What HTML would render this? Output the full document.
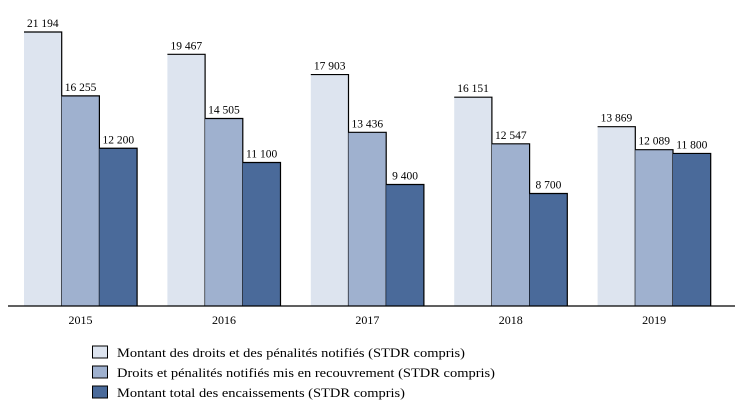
<!DOCTYPE html>
<html><head><meta charset="utf-8"><style>
body{margin:0;background:#fff}
svg{display:block}
svg text{font-family:"Liberation Serif","DejaVu Serif",serif}
</style></head><body>
<svg id="c" width="736" height="412" font-family="Liberation Serif, serif"></svg>
<script>
const categories=["2015","2016","2017","2018","2019"];
const seriesNames=["Montant des droits et des pénalités notifiés (STDR compris)","Droits et pénalités notifiés mis en recouvrement (STDR compris)","Montant total des encaissements (STDR compris)"];
const notifies=[21194,19467,17903,16151,13869];
const recouvrement=[16255,14505,13436,12547,12089];
const encaissements=[12200,11100,9400,8700,11800];
const labels1=["21 194","19 467","17 903","16 151","13 869"];
const labels2=["16 255","14 505","13 436","12 547","12 089"];
const labels3=["12 200","11 100","9 400","8 700","11 800"];
const series=[notifies,recouvrement,encaissements];
const labels=[labels1,labels2,labels3];
const colors=["#dde4ef","#9fb1cf","#4a6a9a"];
const legendWidths=[348,378,288];
const NS="http://www.w3.org/2000/svg";
const svg=document.getElementById('c');
const base=306,top0=32,maxV=21194;
const y=v=>base-(v/maxV)*(base-top0);
const bw=37.7,gx=i=>24+i*143.4;
const bx=(i,s)=>gx(i)+s*bw;
function mk(t,a){const e=document.createElementNS(NS,t);for(const k in a)e.setAttribute(k,a[k]);svg.appendChild(e);return e;}
categories.forEach((c,i)=>{
 series.forEach((arr,s)=>{
  const x=bx(i,s),yy=y(arr[i]);
  const r=mk('rect',{x:x,y:yy,width:bw,height:base-yy,fill:colors[s]});
  
  
  const l=mk('path',{d:`M${x},${yy}H${x+bw}V${base}`,stroke:'#000','stroke-width':1.2,fill:'none'});
  
  
  const t=mk('text',{x:x+bw/2,y:yy-5,'text-anchor':'middle','font-size':11.5,'font-family':'Liberation Serif, serif'});
  t.textContent=labels[s][i];
  
  
 });
 const t=mk('text',{x:gx(i)+bw*1.5,y:324,'text-anchor':'middle','font-size':12,'font-family':'Liberation Serif, serif'});
 t.textContent=c;
 
 
});
const ax=mk('line',{x1:8,x2:735,y1:base,y2:base,stroke:'#000','stroke-width':1.2});


seriesNames.forEach((n,s)=>{
 const yy=346+s*20;
 const r=mk('rect',{x:92.5,y:yy,width:15,height:12,fill:colors[s],stroke:'#000','stroke-width':1});
 
 
 const t=mk('text',{x:117,y:yy+11,'font-size':12.5,'font-family':'Liberation Serif, serif',textLength:legendWidths[s],lengthAdjust:'spacingAndGlyphs'});
 t.textContent=n;
 
 
});
</script>
</body></html>
